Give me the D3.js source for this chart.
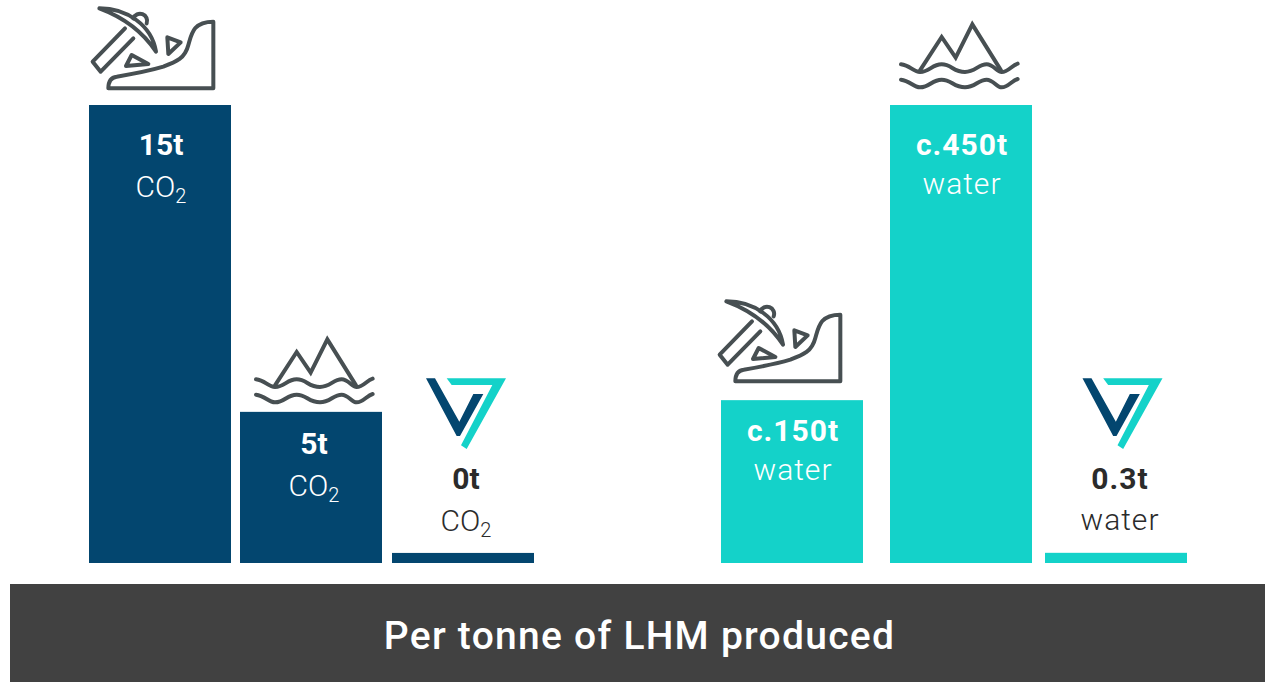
<!DOCTYPE html>
<html><head><meta charset="utf-8">
<script src="https://cdn.jsdelivr.net/npm/d3@7"></script>
<style>html,body{margin:0;padding:0;background:#fff}svg{display:block}text{font-family:Roboto,sans-serif}</style>
</head><body><svg id="c" width="1265" height="682"></svg>
<script>
const co2Categories = ["Mining","Brine","Vulcan"];
const co2Values = [15, 4.95, 0.33];
const co2Labels = ["15t","5t","0t"];
const waterCategories = ["Mining","Brine","Vulcan"];
const waterValues = [160, 450, 10];
const waterLabels = ["c.150t","c.450t","0.3t"];
const footerText = "Per tonne of LHM produced";

const NAVY="#03466f", TEAL="#14d2c9", GREY="#474f52", INK="#2b2b2b";
const svg=d3.select("#c");
const baseY=563, topY=105, bw=142;
const groups=[
 {cats:co2Categories,vals:co2Values,labs:co2Labels,unit:"CO2",color:NAVY,ls:0,
  y:d3.scaleLinear().domain([0,d3.max(co2Values)]).range([baseY,topY]),
  x:d3.scaleOrdinal(co2Categories,[89,240,392]),
  cx:[161,314,466], b1:[155,454,489], b2:[197,496,531],
  icon:[[80,0],[240,332],[400,370]]},
 {cats:waterCategories,vals:waterValues,labs:waterLabels,unit:"water",color:TEAL,ls:1,
  y:d3.scaleLinear().domain([0,d3.max(waterValues)]).range([baseY,topY]),
  x:d3.scaleOrdinal(waterCategories,[721,890,1045]),
  cx:[793,962,1120], b1:[441,155,489], b2:[480,194,530],
  icon:[[707,293],[885,17],[1056.5,370]]}
];
const s=1/3;
function mine(g){
 const a=g.append("g").attr("fill","none").attr("stroke",GREY).attr("stroke-width",12).attr("stroke-linejoin","round").attr("stroke-linecap","round");
 a.append("path").attr("d","M58,25C140,25 215,75 228,155C185,90 120,48 58,25Z");
 a.append("path").attr("d","M135,85L38,185L62,215L160,115");
 a.append("path").attr("d","M160,55A20,20 0 0 1 200,70");
 a.append("path").attr("d","M262,112L302,127L265,162Z");
 a.append("path").attr("d","M155,165L205,192L138,198Z");
 a.append("path").attr("d","M85,265L400,265L400,65C340,65 335,100 325,135C315,175 290,185 250,200C200,215 140,225 110,230C95,232 85,240 85,265Z");
}
function mountain(g){
 const a=g.append("g").attr("fill","none").attr("stroke",GREY).attr("stroke-width",12).attr("stroke-linejoin","miter").attr("stroke-linecap","round");
 a.append("path").attr("d","M105,160L170,60L212,122L262,22L348,160");
 a.append("path").attr("d","M48,142C75,145 85,165 105,165C135,165 140,142 170,142C200,142 205,165 240,165C270,165 280,142 305,142C325,142 335,165 350,165C370,165 380,145 398,140");
 a.append("path").attr("d","M48,188C75,191 85,211 105,211C135,211 140,188 170,188C200,188 205,211 240,211C270,211 280,188 305,188C325,188 335,211 350,211C370,211 380,191 398,186");
}
function vlogo(g){
 g.append("path").attr("fill",NAVY).attr("d","M78,25L105,25L178,155L220,72L250,72L180,198L170,198Z");
 g.append("path").attr("fill",TEAL).attr("d","M140,25L318,25L200,237L183,226L277,45L155,45Z");
}
const icons=[mine,mountain,vlogo];
groups.forEach(G=>{
 svg.append("g").selectAll("rect").data(G.cats.map((c,i)=>({c,v:G.vals[i]}))).join("rect")
  .attr("x",d=>G.x(d.c)).attr("width",bw).attr("y",d=>G.y(d.v)).attr("height",d=>baseY-G.y(d.v)).attr("fill",G.color);
 G.cats.forEach((c,i)=>{
  const inside=baseY-G.y(G.vals[i])>100;
  const col=inside?"#fff":INK;
  svg.append("text").attr("x",G.cx[i]).attr("y",G.b1[i]).attr("text-anchor","middle").attr("fill",col)
   .attr("font-size",30).attr("font-weight",700).attr("letter-spacing",G.ls).text(G.labs[i]);
  const t=svg.append("text").attr("x",G.cx[i]).attr("y",G.b2[i]).attr("text-anchor","middle").attr("fill",col)
   .attr("font-size",30).attr("font-weight",300).attr("letter-spacing",G.ls);
  if(G.unit==="CO2"){
   t.append("tspan").text("CO");
   t.append("tspan").attr("dy",6).attr("font-size",20).text("2");
  } else t.text(G.unit);
  const g=svg.append("g").attr("transform",`translate(${G.icon[i][0]},${G.icon[i][1]}) scale(${s})`);
  icons[i](g);
 });
});
svg.append("rect").attr("x",10).attr("y",584).attr("width",1255).attr("height",98).attr("fill","#414141");
svg.append("text").attr("x",639.5).attr("y",649).attr("text-anchor","middle").attr("fill","#fff")
 .attr("font-size",39).attr("font-weight",500).attr("letter-spacing",1.25).text(footerText);
</script></body></html>
